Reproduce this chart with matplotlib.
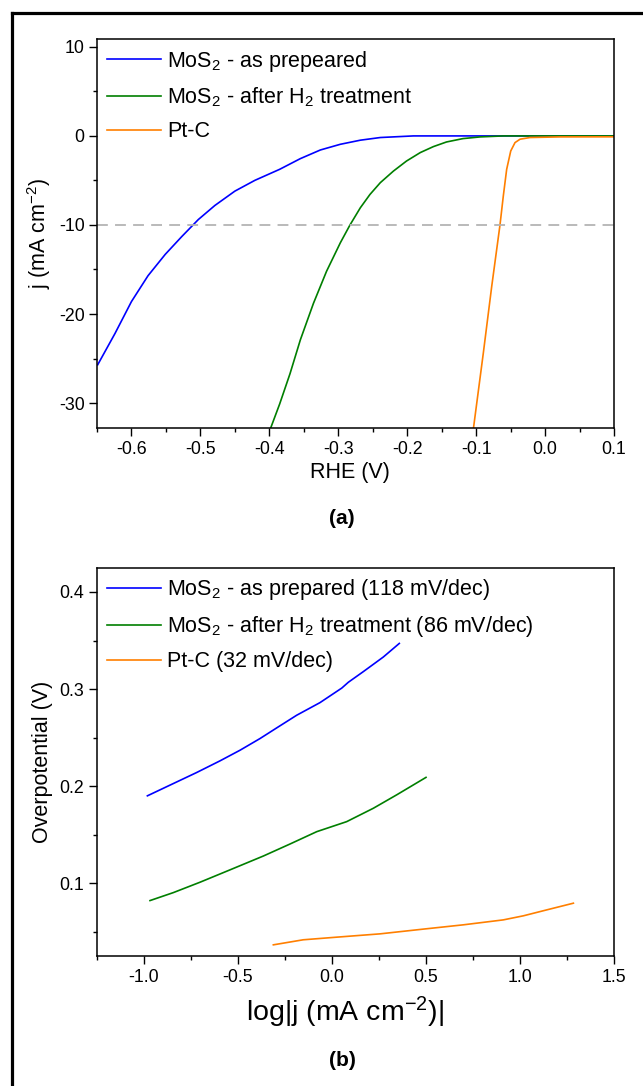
import matplotlib
matplotlib.use('Agg')
import matplotlib.pyplot as plt
from matplotlib.lines import Line2D
from matplotlib.ticker import MultipleLocator

plt.rcParams['font.family'] = ['Liberation Sans', 'DejaVu Sans']
plt.rcParams['mathtext.fontset'] = 'custom'
plt.rcParams['mathtext.rm'] = 'Liberation Sans'
plt.rcParams['mathtext.it'] = 'Liberation Sans:italic'
plt.rcParams['mathtext.bf'] = 'Liberation Sans:bold'
plt.rcParams['axes.unicode_minus'] = False

BLUE = '#0000ff'
GREEN = '#007f00'
ORANGE = '#ff7f00'

# (a) polarization curves: potential vs RHE (V), current density (mA cm-2)
lsv_labels = ['MoS$_2$ - as prepeared',
              'MoS$_2$ - after H$_2$ treatment',
              'Pt-C']
mos2_prep_v = [0.10, 0.0, -0.10, -0.191, -0.239, -0.268, -0.297, -0.326,
               -0.355, -0.385, -0.421, -0.450, -0.479, -0.503, -0.527,
               -0.551, -0.576, -0.600, -0.624, -0.649]
mos2_prep_j = [0.0, 0.0, 0.0, 0.0, -0.18, -0.48, -0.94, -1.58,
               -2.55, -3.75, -4.99, -6.20, -7.81, -9.39, -11.3,
               -13.3, -15.7, -18.6, -22.2, -25.7]
mos2_h2_v = [0.10, 0.0, -0.06, -0.094, -0.119, -0.143, -0.162, -0.181,
             -0.201, -0.220, -0.239, -0.254, -0.268, -0.283, -0.297,
             -0.317, -0.336, -0.355, -0.370, -0.385, -0.399]
mos2_h2_j = [0.0, 0.0, 0.0, -0.11, -0.3, -0.68, -1.2, -1.87,
             -2.82, -3.95, -5.25, -6.57, -8.07, -10.0, -12.0,
             -15.2, -18.8, -22.9, -26.7, -30.1, -33.0]
ptc_v = [0.10, 0.0217, -0.0218, -0.0363, -0.0436, -0.0498, -0.0557,
         -0.0606, -0.0654, -0.0774, -0.0896, -0.104]
ptc_j = [-0.1, -0.11, -0.18, -0.37, -0.75, -1.69, -3.75,
         -6.76, -10.0, -16.9, -24.4, -32.9]

# (b) Tafel plots: log|j| vs overpotential (V)
tafel_labels = ['MoS$_2$ - as prepared (118 mV/dec)',
                'MoS$_2$ - after H$_2$ treatment (86 mV/dec)',
                'Pt-C (32 mV/dec)']
tafel_prep_x = [-0.982, -0.862, -0.720, -0.596, -0.489, -0.383, -0.294,
                -0.188, -0.064, 0.052, 0.087, 0.167, 0.273, 0.358]
tafel_prep_y = [0.190, 0.201, 0.214, 0.226, 0.237, 0.249, 0.260,
                0.273, 0.286, 0.301, 0.307, 0.318, 0.333, 0.347]
tafel_h2_x = [-0.968, -0.844, -0.702, -0.543, -0.365, -0.223, -0.081,
              0.078, 0.220, 0.344, 0.500]
tafel_h2_y = [0.0821, 0.0903, 0.101, 0.1137, 0.128, 0.1404, 0.1531,
              0.1634, 0.1772, 0.191, 0.209]
tafel_ptc_x = [-0.312, -0.153, 0.025, 0.255, 0.486, 0.698, 0.911, 1.018,
               1.142, 1.284]
tafel_ptc_y = [0.0365, 0.0417, 0.0444, 0.0478, 0.0527, 0.0571, 0.0622,
               0.0664, 0.0725, 0.0794]

W, H = 643, 1086
fig = plt.figure(figsize=(W / 100, H / 100), dpi=100)


def style_axes(ax):
    for s in ax.spines.values():
        s.set_linewidth(1.1)
    ax.tick_params(which='both', direction='out', top=False, right=False,
                   labelsize=12.8, width=1.0)
    ax.tick_params(which='major', length=5.5)
    ax.tick_params(which='minor', length=3)


def add_legend(ax):
    ax.legend(loc='upper left', frameon=False, fontsize=15.5,
              handlelength=2.5, handletextpad=0.3, labelspacing=0.55,
              borderaxespad=0.25, borderpad=0.2)


ax1 = fig.add_axes([97 / W, 1 - 428 / H, 517 / W, 388.7 / H])
ax1.plot(mos2_prep_v, mos2_prep_j, color=BLUE, lw=1.2, label=lsv_labels[0])
ax1.plot(mos2_h2_v, mos2_h2_j, color=GREEN, lw=1.2, label=lsv_labels[1])
ax1.plot(ptc_v, ptc_j, color=ORANGE, lw=1.2, label=lsv_labels[2])
ax1.plot([0, 1.01], [-10, -10], transform=ax1.get_yaxis_transform(),
         color='#b4b4b4', lw=1.3, ls=(0, (6, 4)), clip_on=False)
ax1.set_xlim(-0.65, 0.1)
ax1.set_ylim(-32.8, 10.85)
ax1.xaxis.set_major_locator(MultipleLocator(0.1))
ax1.xaxis.set_minor_locator(MultipleLocator(0.05))
ax1.yaxis.set_major_locator(MultipleLocator(10))
ax1.yaxis.set_minor_locator(MultipleLocator(5))
ax1.xaxis.set_major_formatter(lambda v, p: f'{v:.1f}')
style_axes(ax1)
ax1.set_xlabel('RHE (V)', fontsize=15.5)
ax1.xaxis.set_label_coords(0.49, -0.115)
ax1.xaxis.label.set_va('center')
ax1.set_ylabel('j (mA cm$^{-2}$)', fontsize=15.5)
ax1.yaxis.set_label_coords(-0.112, 0.5)
ax1.yaxis.label.set_va('center')
add_legend(ax1)

ax2 = fig.add_axes([97 / W, 1 - 956 / H, 517 / W, 388.3 / H])
ax2.plot(tafel_prep_x, tafel_prep_y, color=BLUE, lw=1.2, label=tafel_labels[0])
ax2.plot(tafel_h2_x, tafel_h2_y, color=GREEN, lw=1.2, label=tafel_labels[1])
ax2.plot(tafel_ptc_x, tafel_ptc_y, color=ORANGE, lw=1.2, label=tafel_labels[2])
ax2.set_xlim(-1.25, 1.5)
ax2.set_ylim(0.025, 0.425)
ax2.xaxis.set_major_locator(MultipleLocator(0.5))
ax2.xaxis.set_minor_locator(MultipleLocator(0.25))
ax2.yaxis.set_major_locator(MultipleLocator(0.1))
ax2.yaxis.set_minor_locator(MultipleLocator(0.05))
ax2.xaxis.set_major_formatter(lambda v, p: f'{v:.1f}')
ax2.yaxis.set_major_formatter(lambda v, p: f'{v:.1f}')
style_axes(ax2)
ax2.set_xlabel('log|j (mA cm$^{-2}$)|', fontsize=20.5)
ax2.xaxis.set_label_coords(0.48, -0.145)
ax2.xaxis.label.set_va('center')
ax2.set_ylabel('Overpotential (V)', fontsize=15.5)
ax2.yaxis.set_label_coords(-0.106, 0.5)
ax2.yaxis.label.set_va('center')
add_legend(ax2)

fig.text(342 / W, 1 - 518 / H, '(a)', fontsize=15, fontweight='bold',
         ha='center', va='center')
fig.text(342 / W, 1 - 1060 / H, '(b)', fontsize=15, fontweight='bold',
         ha='center', va='center')

# outer frame (top and left edges)
fig.add_artist(Line2D([12 / W, 1], [1 - 13.3 / H, 1 - 13.3 / H],
                      transform=fig.transFigure, color='black', lw=2.3))
fig.add_artist(Line2D([12 / W, 12 / W], [0, 1 - 13.3 / H],
                      transform=fig.transFigure, color='black', lw=2.3))

fig.savefig('out.png', dpi=100)
